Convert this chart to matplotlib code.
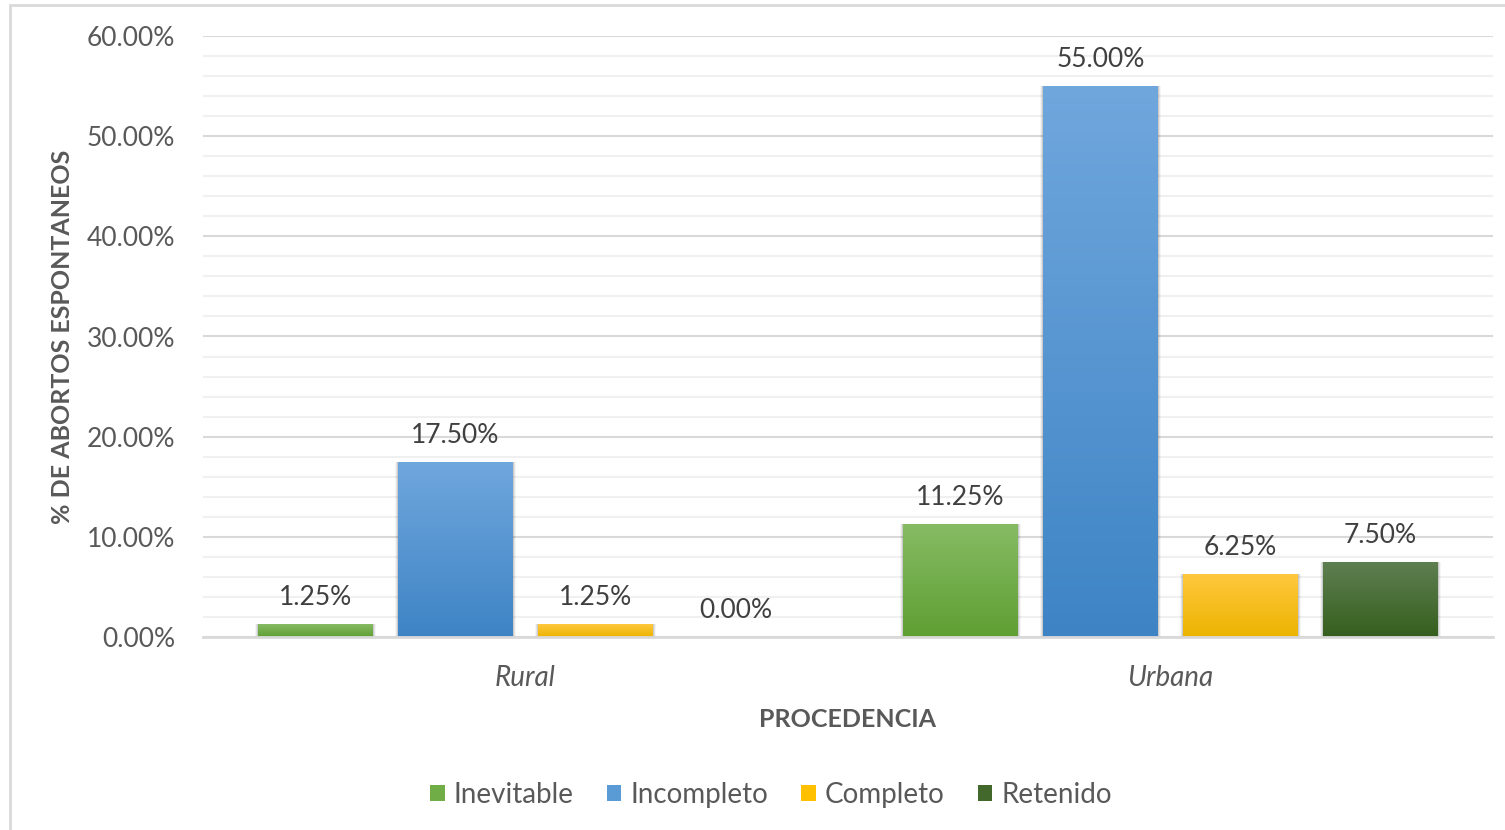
import numpy as np
import matplotlib
matplotlib.use("Agg")
import matplotlib.pyplot as plt
from matplotlib.colors import LinearSegmentedColormap
from matplotlib.patches import Rectangle, Patch
from matplotlib.ticker import MultipleLocator, FuncFormatter

plt.rcParams['font.family'] = ['Lato', 'DejaVu Sans']

categories = ["Rural", "Urbana"]
series_names = ["Inevitable", "Incompleto", "Completo", "Retenido"]
inevitable = [1.25, 11.25]
incompleto = [17.50, 55.00]
completo = [1.25, 6.25]
retenido = [0.00, 7.50]
series_values = [inevitable, incompleto, completo, retenido]

# gradient colours (top, bottom) and legend swatch colour for each series
grad_colors = [("#86bb64", "#5f9f33"),
               ("#70a7dd", "#3e84c5"),
               ("#ffc83e", "#ecb400"),
               ("#5f7f52", "#365f1e")]
solid_colors = ["#70ad47", "#5b9bd5", "#ffc000", "#43682b"]

text_gray = "#595959"
label_gray = "#404040"

fig = plt.figure(figsize=(15.05, 8.3), dpi=100)
ax = fig.add_axes([203 / 1505, 1 - 637 / 830, (1493 - 203) / 1505, (637 - 36) / 830])

ax.set_xlim(-0.5, 1.5)
ax.set_ylim(0, 60)

width = 0.178
step = 0.2172
offsets = [(-1.5 + i) * step for i in range(4)]

for si, (vals, (ctop, cbot)) in enumerate(zip(series_values, grad_colors)):
    cmap = LinearSegmentedColormap.from_list(f"g{si}", [cbot, ctop])
    grad = np.linspace(0, 1, 256).reshape(-1, 1)
    for ci, v in enumerate(vals):
        x0 = ci + offsets[si] - width / 2
        if v > 0:
            # soft shadow below and right of the bar
            for k, a in enumerate([0.10, 0.07, 0.04]):
                dx = 0.0015 * (k + 1)
                dy = 0.12 * (k + 1)
                sh = Rectangle((x0 - dx, -dy), width + 2 * dx, v + dy,
                               facecolor="black", alpha=a, edgecolor="none", zorder=2)
                ax.add_patch(sh)
            bar = ax.bar(ci + offsets[si], v, width=width, color="none", zorder=3)[0]
            im = ax.imshow(grad, extent=[x0, x0 + width, 0, v], origin="lower",
                           cmap=cmap, aspect="auto", zorder=3, interpolation="bilinear")
            im.set_clip_path(bar)
        ax.text(ci + offsets[si], v + 1.4, f"{v:.2f}%", ha="center", va="bottom",
                fontsize=19, color=label_gray, zorder=5)

ax.set_aspect("auto")
ax.set_xlim(-0.5, 1.5)
ax.set_ylim(0, 60)

ax.yaxis.set_major_locator(MultipleLocator(10))
ax.yaxis.set_minor_locator(MultipleLocator(2))
ax.yaxis.set_major_formatter(FuncFormatter(lambda y, _: f"{y:.2f}%"))
ax.grid(axis="y", which="major", color="#d9d9d9", linewidth=1.5, zorder=0)
ax.grid(axis="y", which="minor", color="#f0f0f0", linewidth=1.5, zorder=0)
ax.set_axisbelow(True)
ax.tick_params(axis="y", which="both", length=0, labelsize=19, labelcolor=text_gray, pad=20)
ax.set_xticks([0, 1])
ax.set_xticklabels(categories, fontsize=20, color=text_gray, style="italic")
ax.tick_params(axis="x", length=0, pad=20)

for side in ["top", "right", "left"]:
    ax.spines[side].set_visible(False)
ax.spines["bottom"].set_color("#d9d9d9")
ax.spines["bottom"].set_linewidth(2)
ax.spines["bottom"].set_zorder(4)

fig.text(63 / 1505, 1 - 337 / 830, "% DE ABORTOS ESPONTANEOS", rotation=90,
         ha="center", va="center", fontsize=18, fontweight="bold", color=text_gray)
fig.text(848 / 1505, 1 - 719 / 830, "PROCEDENCIA", ha="center", va="center",
         fontsize=18, fontweight="bold", color=text_gray)

handles = [Patch(facecolor=c, edgecolor="none") for c in solid_colors]
fig.legend(handles, series_names, loc="center", bbox_to_anchor=(771 / 1505, 1 - 795 / 830),
           ncol=4, frameon=False, fontsize=20, labelcolor=text_gray,
           handlelength=0.52, handleheight=0.52, handletextpad=0.32, columnspacing=1.2)

# outer chart frame
fig.patches.append(Rectangle((10 / 1505, -0.01), 1.02, 1 - 5 / 830 + 0.01,
                             transform=fig.transFigure, facecolor="none",
                             edgecolor="#d9d9d9", linewidth=2, zorder=10))

fig.savefig("out.png", dpi=100)
